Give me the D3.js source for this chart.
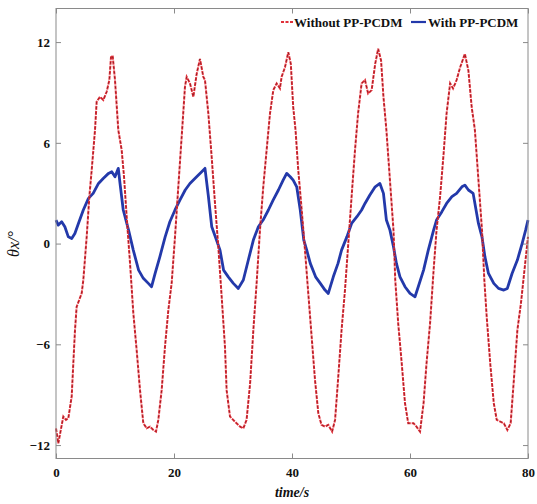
<!DOCTYPE html>
<html>
<head>
<meta charset="utf-8">
<script src="https://cdn.jsdelivr.net/npm/d3@7/dist/d3.min.js"></script>
<style>
  html, body { margin: 0; padding: 0; background: #fff; }
  svg { display: block; }
  .tick text { font-family: "Liberation Serif", "Times New Roman", serif; font-weight: bold; font-size: 13px; fill: #111; }
</style>
</head>
<body>
<svg id="chart" width="537" height="504"></svg>
<script>
// Roll angle response over time, without / with the PP-PCDM controller
const redTime = [0, 0.39, 1.24, 1.69, 2.09, 2.66, 2.94, 3.22, 3.5, 4.35, 4.63, 5.2, 5.65, 6.05, 6.61, 6.89,
  7.46, 8.02, 8.59, 9.04, 9.32, 9.6, 10.0, 10.56, 10.85, 11.13, 11.53, 11.98, 12.55, 13.11, 13.67, 14.24,
  14.8, 15.37, 15.93, 16.5, 16.95, 17.34, 17.91, 18.47, 19.04, 19.6, 20.17, 20.73, 21.3, 21.86, 22.15,
  22.71, 23.28, 23.84, 24.4, 24.97, 25.25, 25.82, 26.38, 26.95, 27.51, 28.08, 28.64, 28.92, 29.49, 30.3,
  31.2, 31.75, 32.3, 32.9, 33.45, 34.0, 34.57, 35.13, 35.7, 36.27, 36.83, 37.4, 37.96, 38.24, 38.81,
  39.37, 39.8, 40.2, 40.6, 41.06, 41.6, 42.2, 42.76, 43.33, 43.9, 44.46, 45.0, 45.6, 46.15, 46.8, 47.3,
  47.8, 48.4, 48.98, 49.5, 50.1, 50.68, 51.2, 51.8, 52.37, 52.9, 53.5, 54.1, 54.6, 55.1, 55.5, 56.0,
  56.6, 57.2, 57.5, 58.0, 58.6, 59.15, 59.7, 60.6, 61.1, 61.7, 62.3, 62.8, 63.4, 64.0, 64.5, 65.1, 65.7,
  66.2, 66.8, 67.3, 67.9, 68.5, 69.3, 69.9, 70.45, 71.0, 71.6, 72.2, 72.6, 73.0, 73.6, 74.2, 74.7, 75.3,
  75.9, 76.5, 77.06, 77.6, 78.2, 78.8, 79.4, 80.0];
const redValue = [-11.0, -11.9, -10.3, -10.5, -10.4, -9.1, -7.1, -5.15, -3.76, -2.97, -2.17, 0.4, 2.79, 4.38, 6.76, 8.45,
  8.74, 8.55, 9.04, 9.74, 11.1, 11.2, 9.74, 6.76, 6.16, 5.57, 3.98, 1.6, -1.18, -4.16, -6.34, -8.73,
  -10.7, -11.0, -10.9, -11.1, -11.2, -10.5, -8.73, -6.15, -3.96, -2.37, 0.4, 3.38, 6.36, 9.34, 9.93,
  9.54, 8.74, 10.1, 11.0, 9.93, 9.74, 7.75, 5.17, 2.39, -0.19, -3.17, -6.15, -8.73, -10.3, -10.6,
  -10.9, -11.0, -10.5, -8.33, -5.15, -2.37, 0.8, 3.38, 5.57, 7.75, 9.14, 9.54, 9.24, 9.93, 10.5,
  11.4, 10.7, 8.15, 6.76, 4.38, 2.19, -0.39, -2.97, -5.55, -8.13, -10.1, -10.8, -10.9, -10.8, -11.2, -10.5,
  -8.13, -5.15, -2.77, -0.19, 2.79, 5.57, 7.75, 9.54, 9.74, 8.94, 9.14, 10.7, 11.6, 10.9, 8.74, 6.76,
  3.78, 0.8, -2.17, -4.75, -7.14, -9.5, -10.7, -10.7, -10.9, -11.2, -9.5, -7.14, -4.75, -1.58, 0.8, 2.79, 5.37,
  7.75, 9.54, 9.24, 9.74, 10.5, 11.3, 10.3, 8.15, 6.76, 3.78, 0.8, -2.17, -4.36, -7.14, -9.5, -10.5, -10.6,
  -10.7, -11.1, -10.7, -8.13, -5.15, -3.56, -1.58, 0.4];

const blueTime = [0, 0.39, 0.96, 1.5, 2.09, 2.66, 3.2, 3.8, 4.63, 5.5, 6.3, 7.2, 8.0, 8.9, 9.45, 10.0, 10.56,
  10.85, 11.4, 12.3, 13.1, 14.0, 14.8, 15.65, 16.2, 16.8, 17.6, 18.5, 19.3, 20.17, 21.0, 21.9, 22.7,
  23.84, 24.7, 25.25, 25.8, 26.4, 27.2, 27.8, 28.4, 29.2, 30.06, 30.9, 31.75, 32.6, 33.45, 34.3, 35.1,
  36.0, 36.8, 37.7, 38.5, 39.1, 39.7, 40.2, 40.8, 41.4, 42.0, 42.5, 43.1, 44.0, 44.8, 45.6, 46.15, 47.0,
  47.8, 48.4, 49.3, 50.1, 51.0, 51.8, 52.37, 53.2, 54.1, 54.9, 55.5, 56.0, 56.6, 57.2, 57.7, 58.3, 59.15,
  60.0, 60.85, 61.4, 62.3, 63.1, 64.0, 64.5, 65.4, 66.2, 67.1, 67.9, 68.8, 69.3, 69.9, 70.7, 71.6, 72.2,
  72.7, 73.3, 74.2, 75.0, 75.9, 76.5, 77.3, 78.2, 79.0, 79.6, 80.0];
const blueValue = [1.4, 1.1, 1.3, 1.0, 0.4, 0.3, 0.6, 1.2, 2.0, 2.69, 2.99, 3.58, 3.88, 4.18, 4.28, 3.98, 4.48,
  3.58, 2.0, 0.8, -0.39, -1.58, -2.07, -2.37, -2.57, -1.78, -0.79, 0.4, 1.3, 2.0, 2.59, 3.19, 3.58,
  3.98, 4.28, 4.48, 2.9, 1.0, 0.21, -0.39, -1.58, -1.98, -2.37, -2.67, -2.17, -0.98, 0.21, 1.0, 1.4,
  2.0, 2.59, 3.19, 3.78, 4.18, 3.98, 3.78, 3.38, 2.0, 0.21, -0.39, -1.18, -1.98, -2.37, -2.77, -2.97, -1.98,
  -1.18, -0.39, 0.4, 1.2, 1.6, 2.0, 2.39, 2.89, 3.38, 3.58, 2.99, 1.4, 0.8, -0.19, -1.18, -1.98, -2.57,
  -2.97, -3.17, -2.57, -1.58, -0.39, 0.8, 1.4, 1.9, 2.39, 2.79, 2.99, 3.38, 3.48, 3.19, 2.99, 1.2, 0.4,
  -0.79, -1.78, -2.37, -2.67, -2.77, -2.67, -1.78, -0.98, 0.0, 0.8, 1.4];

const xTicks = [0, 20, 40, 60, 80];
const yTicks = [-12, -6, 0, 6, 12];
const seriesNames = ["Without PP-PCDM", "With PP-PCDM"];
const xTitle = "time/s";
const yTitle = "\u03B8x/\u00B0";

const svg = d3.select("#chart");
const plotLeft = 56, plotRight = 528, plotTop = 8.5, plotBottom = 458.5;

const x = d3.scaleLinear().domain([0, 80]).range([plotLeft, plotRight]);
const y = d3.scaleLinear().domain([-12.8, 14]).range([plotBottom, plotTop]);

const frameColor = "#8a8a8a";

// inward ticks on all four sides
const gx = svg.append("g").attr("transform", `translate(0,${plotBottom})`)
  .call(d3.axisBottom(x).tickValues(xTicks).tickSizeInner(-5).tickSizeOuter(0).tickPadding(9));
const gy = svg.append("g").attr("transform", `translate(${plotLeft},0)`)
  .call(d3.axisLeft(y).tickValues(yTicks).tickSizeInner(-5).tickSizeOuter(0).tickPadding(6));
const gt = svg.append("g").attr("transform", `translate(0,${plotTop})`)
  .call(d3.axisTop(x).tickValues(xTicks).tickSizeInner(-5).tickSizeOuter(0).tickFormat(""));
const gr = svg.append("g").attr("transform", `translate(${plotRight},0)`)
  .call(d3.axisRight(y).tickValues(yTicks).tickSizeInner(-5).tickSizeOuter(0).tickFormat(""));
[gx, gy, gt, gr].forEach(g => {
  g.select(".domain").remove();
  g.selectAll(".tick line").attr("stroke", frameColor).attr("stroke-width", 1);
});

const line = d3.line().x(d => x(d[0])).y(d => y(d[1]));
const redData = redTime.map((t, i) => [t, redValue[i]]);
const blueData = blueTime.map((t, i) => [t, blueValue[i]]);

const plot = svg.append("g");

// blue: with controller
plot.append("path").datum(blueData)
  .attr("d", line).attr("fill", "none")
  .attr("stroke", "#2339aa").attr("stroke-width", 2.8)
  .attr("stroke-linejoin", "round");

// red: without controller, dash-dot look
plot.append("path").datum(redData)
  .attr("d", line).attr("fill", "none")
  .attr("stroke", "#e0303a").attr("stroke-width", 2)
  .attr("stroke-dasharray", "4,1");
plot.append("path").datum(redData)
  .attr("d", line).attr("fill", "none")
  .attr("stroke", "#6e1c20").attr("stroke-width", 0.8)
  .attr("stroke-dasharray", "1.5,3.5").attr("stroke-dashoffset", -1.2);

// frame
svg.append("rect")
  .attr("x", plotLeft).attr("y", plotTop)
  .attr("width", plotRight - plotLeft).attr("height", plotBottom - plotTop)
  .attr("fill", "none").attr("stroke", frameColor).attr("stroke-width", 1);

// legend
const lg = svg.append("g").attr("font-family", "Liberation Serif, Times New Roman, serif")
  .attr("font-weight", "bold").attr("font-size", 13).attr("fill", "#111");
lg.append("line").attr("x1", 281).attr("x2", 293).attr("y1", 22).attr("y2", 22)
  .attr("stroke", "#e0303a").attr("stroke-width", 1.8).attr("stroke-dasharray", "3,1.5");
lg.append("text").attr("x", 294).attr("y", 26.5).text(seriesNames[0]);
lg.append("line").attr("x1", 411).attr("x2", 426).attr("y1", 22).attr("y2", 22)
  .attr("stroke", "#2339aa").attr("stroke-width", 2.2);
lg.append("text").attr("x", 428).attr("y", 26.5).text(seriesNames[1]);

// axis titles
svg.append("text")
  .attr("x", (plotLeft + plotRight) / 2).attr("y", 497)
  .attr("text-anchor", "middle")
  .attr("font-family", "Liberation Serif, Times New Roman, serif")
  .attr("font-weight", "bold").attr("font-style", "italic").attr("font-size", 14)
  .attr("fill", "#111").text(xTitle);
svg.append("text")
  .attr("transform", "translate(19,244) rotate(-90)")
  .attr("text-anchor", "middle")
  .attr("font-family", "Liberation Serif, Times New Roman, serif")
  .attr("font-style", "italic").attr("font-size", 16)
  .attr("fill", "#111").text(yTitle);
</script>
</body>
</html>
